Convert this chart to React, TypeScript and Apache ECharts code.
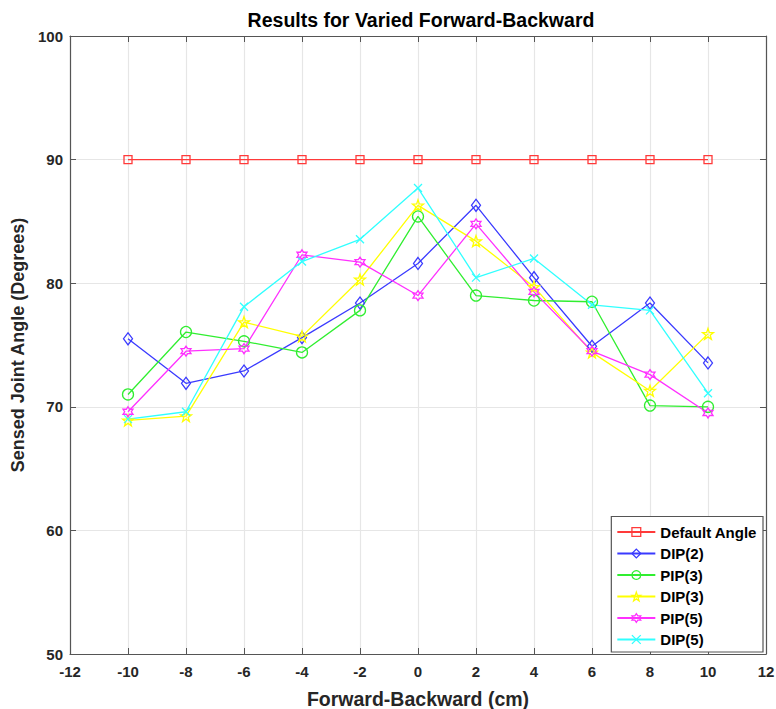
import React, { useEffect, useRef } from "react";
import * as echarts from "echarts";

const xValues = [-10, -8, -6, -4, -2, 0, 2, 4, 6, 8, 10];
const defaultAngle = [90, 90, 90, 90, 90, 90, 90, 90, 90, 90, 90];
const dip2 = [75.5, 71.9, 72.9, 75.6, 78.4, 81.6, 86.3, 80.45, 74.9, 78.4, 73.55];
const pip3 = [71.0, 76.05, 75.3, 74.4, 77.8, 85.4, 79.0, 78.6, 78.5, 70.1, 70.0];
const dip3 = [68.9, 69.25, 76.85, 75.7, 80.3, 86.3, 83.4, 79.7, 74.4, 71.3, 75.9];
const pip5 = [69.6, 74.5, 74.7, 82.3, 81.7, 79.0, 84.8, 79.3, 74.5, 72.6, 69.5];
const dip5 = [69.0, 69.6, 78.1, 81.75, 83.55, 87.7, 80.45, 82.0, 78.25, 77.8, 71.1];

const seriesNames = ["Default Angle", "DIP(2)", "PIP(3)", "DIP(3)", "PIP(5)", "DIP(5)"];
const seriesValues = [defaultAngle, dip2, pip3, dip3, pip5, dip5];
const seriesColors = ["#ff3a3a", "#3a3aff", "#30ee30", "#ffff00", "#ff30ff", "#30ffff"];

const PENTAGRAM =
  "path://M0,-10 L2.35,-3.24 L9.51,-3.09 L3.8,1.24 L5.88,8.09 L0,4 L-5.88,8.09 L-3.8,1.24 L-9.51,-3.09 L-2.35,-3.24 Z";
const HEXAGRAM =
  "path://M0,-10 L2.89,-5 L8.66,-5 L5.77,0 L8.66,5 L2.89,5 L0,10 L-2.89,5 L-8.66,5 L-5.77,0 L-8.66,-5 L-2.89,-5 Z";
const XMARK = "path://M-5,-5 L5,5 M5,-5 L-5,5";

const seriesSymbols = ["rect", "diamond", "circle", PENTAGRAM, HEXAGRAM, XMARK];
const seriesSymbolSizes: any[] = [8, [9, 12], 11, 11, 10, 8];

const FONT = "'Liberation Sans', Arial, Helvetica, sans-serif";
const AXIS_COLOR = "#262626";

export default function App() {
  const ref = useRef<HTMLDivElement>(null);
  useEffect(() => {
    if (!ref.current) return;
    document.body.style.margin = "0";
    document.body.style.overflow = "hidden";
    const chart = echarts.init(ref.current, null, { renderer: "svg", width: 776, height: 709 });
    const series = seriesNames.map((name, i) => ({
      name,
      type: "line",
      xAxisIndex: 0,
      yAxisIndex: 0,
      data: xValues.map((x, j) => [x, seriesValues[i][j]]),
      color: seriesColors[i],
      symbol: seriesSymbols[i],
      symbolSize: seriesSymbolSizes[i],
      showAllSymbol: true,
      lineStyle: { color: seriesColors[i], width: 1.3 },
      itemStyle: { color: "none", borderColor: seriesColors[i], borderWidth: 1.3 },
    }));
    const tickLabel = { fontFamily: FONT, fontWeight: "bold", fontSize: 15, color: AXIS_COLOR };
    chart.setOption({
      animation: false,
      backgroundColor: "#ffffff",
      textStyle: { fontFamily: FONT },
      grid: {
        left: 70,
        right: 10,
        top: 36,
        bottom: 55,
        containLabel: false,
        outerBoundsMode: "none",
      },
      graphic: [
        {
          type: "text",
          x: 421,
          y: 20,
          style: {
            text: "Results for Varied Forward-Backward",
            font: `bold 19.5px ${FONT}`,
            fill: "#000000",
            textAlign: "center",
            textVerticalAlign: "middle",
          },
        },
      ],
      xAxis: [
        {
          type: "value",
          min: -12,
          max: 12,
          interval: 2,
          position: "bottom",
          name: "Forward-Backward (cm)",
          nameLocation: "middle",
          nameGap: 35,
          nameTextStyle: { fontFamily: FONT, fontWeight: "bold", fontSize: 19.5, color: AXIS_COLOR },
          axisLine: { show: true, onZero: false, lineStyle: { color: "#555555", width: 1.2 } },
          axisTick: { show: true, inside: true, length: 6, lineStyle: { color: "#555555" } },
          axisLabel: { ...tickLabel, margin: 10 },
          splitLine: { show: true, lineStyle: { color: "#e6e6e6", width: 1.2 } },
        },
        {
          type: "value",
          min: -12,
          max: 12,
          interval: 2,
          position: "top",
          axisLine: { show: true, onZero: false, lineStyle: { color: "#555555", width: 1.2 } },
          axisTick: { show: true, inside: true, length: 6, lineStyle: { color: "#555555" } },
          axisLabel: { show: false },
          splitLine: { show: false },
        },
      ],
      yAxis: [
        {
          type: "value",
          min: 50,
          max: 100,
          interval: 10,
          position: "left",
          name: "Sensed Joint Angle (Degrees)",
          nameLocation: "middle",
          nameGap: 38,
          nameTextStyle: { fontFamily: FONT, fontWeight: "bold", fontSize: 18, color: AXIS_COLOR },
          axisLine: { show: true, onZero: false, lineStyle: { color: "#555555", width: 1.2 } },
          axisTick: { show: true, inside: true, length: 6, lineStyle: { color: "#555555" } },
          axisLabel: { ...tickLabel, margin: 7 },
          splitLine: { show: true, lineStyle: { color: "#e6e6e6", width: 1.2 } },
        },
        {
          type: "value",
          min: 50,
          max: 100,
          interval: 10,
          position: "right",
          axisLine: { show: true, onZero: false, lineStyle: { color: "#555555", width: 1.2 } },
          axisTick: { show: true, inside: true, length: 6, lineStyle: { color: "#555555" } },
          axisLabel: { show: false },
          splitLine: { show: false },
        },
      ],
      legend: {
        orient: "vertical",
        right: 13,
        bottom: 57,
        backgroundColor: "#ffffff",
        borderColor: "#555555",
        borderWidth: 1.2,
        borderRadius: 0,
        padding: [8, 6, 5, 5],
        itemWidth: 38,
        itemHeight: 11,
        itemGap: 6.5,
        textStyle: { fontFamily: FONT, fontWeight: "bold", fontSize: 15, color: "#000000" },
        data: seriesNames.map((name, i) => ({
          name,
          itemStyle: { color: "none", borderColor: seriesColors[i], borderWidth: 1.3 },
        })),
      },
      series,
    });
    return () => chart.dispose();
  }, []);
  return (
    <div
      ref={ref}
      style={{
        position: "absolute",
        left: 0,
        top: 0,
        width: 776,
        height: 709,
        overflow: "hidden",
        background: "#fff",
      }}
    />
  );
}
